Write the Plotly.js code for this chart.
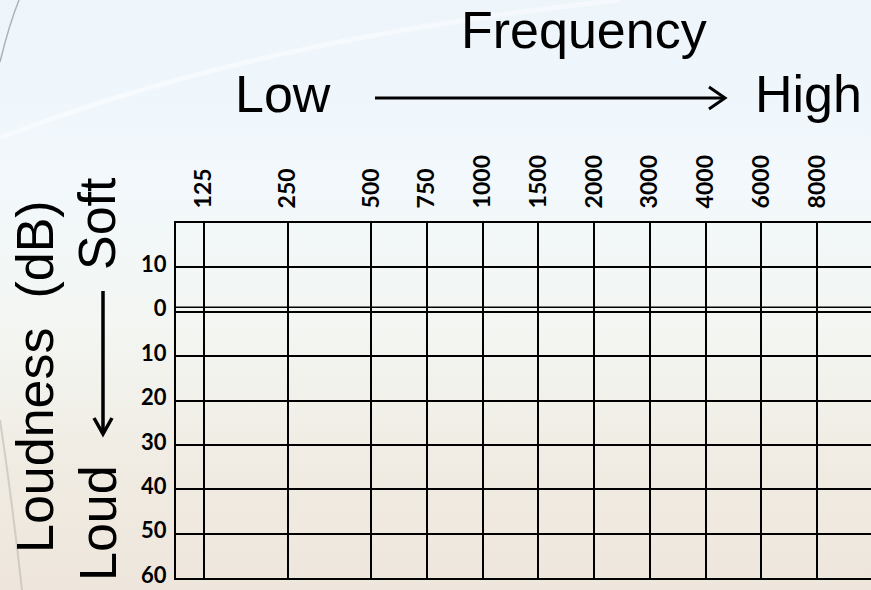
<!DOCTYPE html>
<html>
<head>
<meta charset="utf-8">
<script src="https://cdn.plot.ly/plotly-3.0.1.min.js"></script>
<style>
  html, body { margin: 0; padding: 0; overflow: hidden; width: 871px; height: 590px; }
  body { background: linear-gradient(180deg, #edf5fb 0%, #f2f8fc 30%, #f3f6f2 55%, #f0ebe2 80%, #eee6dc 100%); }
  #chart { width: 880px; height: 590px; }
</style>
</head>
<body>
<div id="chart"></div>
<script>
// ---- data ----
const freqLabels = ['125', '250', '500', '750', '1000', '1500', '2000', '3000', '4000', '6000', '8000'];
const freqSlots  = [0, 1.5, 3, 4, 5, 6, 7, 8, 9, 10, 11];      // audiogram column positions
const dbLevels   = [-10, 0, 10, 20, 30, 40, 50, 60];
const dbLabels   = ['10', '0', '10', '20', '30', '40', '50', '60'];
const dbRange    = [60, -20];
const refLine    = -1;   // second line of the double 0 dB rule

// ---- layout helpers (pixel -> paper) ----
const W = 880, H = 590, ML = 176, MR = 0, MT = 223, MB = 12;
const PW = W - ML - MR, PH = H - MT - MB;
const px = x => (x - ML) / PW;
const py = y => (H - MB - y) / PH;
const pathPx = pts => pts.map((p, i) => (typeof p === 'string' ? p : (px(p[0]) + ',' + py(p[1])))).join(' ');

const titleFont = { family: 'Liberation Sans, Arial, sans-serif', size: 52, color: '#000' };

const annotations = [
  { text: 'Frequency', x: px(584), y: py(30), xanchor: 'center', yanchor: 'middle' },
  { text: 'Low', x: px(283), y: py(94), xanchor: 'center', yanchor: 'middle' },
  { text: 'High', x: px(808), y: py(94), xanchor: 'center', yanchor: 'middle' },
  { text: 'Loudness  (dB)', x: px(35), y: py(377), xanchor: 'center', yanchor: 'middle', textangle: -90 },
  { text: 'Soft', x: px(97), y: py(224), xanchor: 'center', yanchor: 'middle', textangle: -90 },
  { text: 'Loud', x: px(98), y: py(523), xanchor: 'center', yanchor: 'middle', textangle: -90 }
].map(a => Object.assign({ xref: 'paper', yref: 'paper', showarrow: false, font: titleFont }, a));

const shapes = [
  // double 0 dB rule (upper thin line)
  { type: 'line', xref: 'paper', yref: 'y', x0: 0, x1: 1, y0: refLine, y1: refLine, line: { color: '#000', width: 1.5 } },
  // horizontal arrow Low -> High
  { type: 'line', xref: 'paper', yref: 'paper', x0: px(375), x1: px(723), y0: py(98), y1: py(98), line: { color: '#000', width: 3 } },
  { type: 'path', xref: 'paper', yref: 'paper', path: 'M' + pathPx([[709, 87], 'L', [725, 98], 'L', [709, 109]]), line: { color: '#000', width: 3 } },
  // vertical arrow Soft -> Loud
  { type: 'line', xref: 'paper', yref: 'paper', x0: px(103), x1: px(103), y0: py(291), y1: py(432), line: { color: '#000', width: 3.5 } },
  { type: 'path', xref: 'paper', yref: 'paper', path: 'M' + pathPx([[94, 418], 'L', [103, 434], 'L', [112, 418]]), line: { color: '#000', width: 3.5 } },
  // decorative background curves
  { type: 'path', xref: 'paper', yref: 'paper', layer: 'below', path: 'M' + pathPx([[19, 0], 'Q', [9, 25], [0, 62]]), line: { color: '#aeb3b8', width: 1.5 } },
  { type: 'path', xref: 'paper', yref: 'paper', layer: 'below', path: 'M' + pathPx([[0, 138], 'Q', [250, 40], [620, 0]]), line: { color: 'rgba(255,255,255,0.45)', width: 5 } },
  { type: 'path', xref: 'paper', yref: 'paper', layer: 'below', path: 'M' + pathPx([[0, 420], 'Q', [12, 500], [22, 590]]), line: { color: 'rgba(180,176,170,0.5)', width: 2 } }
];

const layout = {
  width: W, height: H,
  margin: { l: ML, r: MR, t: MT, b: MB, pad: 0 },
  paper_bgcolor: 'rgba(0,0,0,0)',
  plot_bgcolor: 'rgba(0,0,0,0)',
  showlegend: false,
  xaxis: {
    side: 'top',
    range: [-0.5, -0.5 + PW / 55.75],
    tickmode: 'array', tickvals: freqSlots, ticktext: freqLabels,
    tickangle: -90,
    tickfont: { family: 'Lato, sans-serif', size: 23, weight: 700, color: '#000' },
    ticks: '', ticklabelstandoff: 8,
    showgrid: true, gridcolor: '#000', gridwidth: 2,
    zeroline: false,
    showline: true, mirror: true, linecolor: '#000', linewidth: 2,
    fixedrange: true
  },
  yaxis: {
    range: dbRange,
    tickmode: 'array', tickvals: dbLevels, ticktext: dbLabels,
    tickfont: { family: 'Lato, sans-serif', size: 22, weight: 700, color: '#000' },
    ticks: '', ticklabelstandoff: 3, ticklabelshift: 3,
    showgrid: true, gridcolor: '#000', gridwidth: 2,
    zeroline: false,
    showline: true, mirror: true, linecolor: '#000', linewidth: 2,
    fixedrange: true
  },
  annotations: annotations,
  shapes: shapes
};

const traces = [{ type: 'scatter', mode: 'markers', x: [], y: [], hoverinfo: 'skip' }];

Plotly.newPlot('chart', traces, layout, { staticPlot: true, displayModeBar: false });
</script>
</body>
</html>
